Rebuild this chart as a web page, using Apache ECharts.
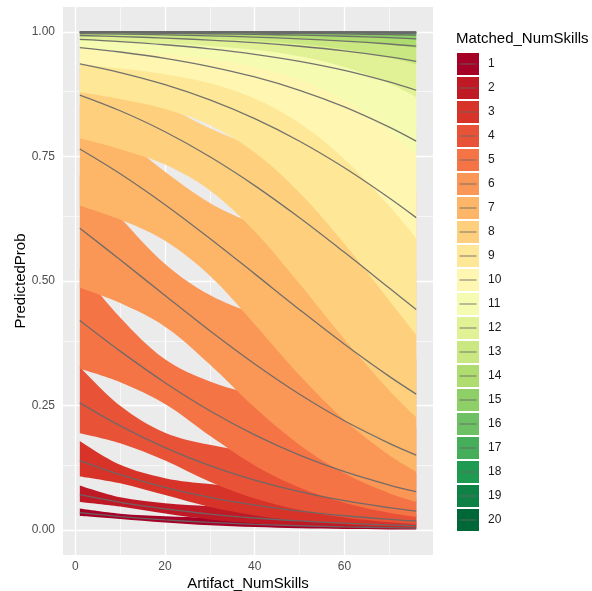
<!DOCTYPE html>
<html>
<head>
<meta charset="utf-8">
<script src="https://cdn.jsdelivr.net/npm/echarts@6/dist/echarts.min.js"></script>
<style>
html,body{margin:0;padding:0;background:#ffffff;}
#chart{width:592px;height:591px;}
</style>
</head>
<body>
<div id="chart"></div>
<script>
// ---- data ----
const xValues = [1, 10, 20, 30, 40, 50, 60, 70, 76];
const levels = ['1','2','3','4','5','6','7','8','9','10','11','12','13','14','15','16','17','18','19','20'];
const levelColors = ['#A50026','#BF1926','#D83328','#E85337','#F57446','#FA9656','#FDB668','#FED07E','#FEE796','#FFF7B1',
                     '#F5FBB1','#E1F296','#C9E881','#AEDC6F','#8ECF67','#6DC064','#46AD5B','#1E9A51','#0E8144','#006837'];
const fitProb = [
  [0.0349,0.0272,0.0205,0.0154,0.0116,0.0087,0.0066,0.0049,0.0042],
  [0.0711,0.0558,0.0424,0.0321,0.0243,0.0183,0.0138,0.0104,0.0088],
  [0.1394,0.1112,0.0857,0.0657,0.0501,0.0380,0.0288,0.0217,0.0183],
  [0.2554,0.2093,0.1656,0.1295,0.1004,0.0772,0.0590,0.0449,0.0381],
  [0.4207,0.3592,0.2959,0.2396,0.1911,0.1505,0.1172,0.0905,0.0773],
  [0.6059,0.5427,0.4708,0.4001,0.3334,0.2727,0.2194,0.1741,0.1506],
  [0.7650,0.7153,0.6532,0.5854,0.5143,0.4425,0.3731,0.3085,0.2729],
  [0.8733,0.8417,0.7995,0.7493,0.6915,0.6269,0.5575,0.4858,0.4428],
  [0.9358,0.9184,0.8941,0.8635,0.8259,0.7806,0.7273,0.6666,0.6272],
  [0.9686,0.9597,0.9470,0.9305,0.9095,0.8828,0.8495,0.8089,0.7807],
  [0.9849,0.9806,0.9742,0.9659,0.9551,0.9410,0.9228,0.8996,0.8829],
  [0.9928,0.9907,0.9877,0.9836,0.9783,0.9712,0.9620,0.9499,0.9410],
  [0.9966,0.9956,0.9941,0.9922,0.9896,0.9862,0.9817,0.9757,0.9713],
  [0.9984,0.9979,0.9972,0.9963,0.9951,0.9934,0.9913,0.9884,0.9862],
  [0.9992,0.9990,0.9987,0.9983,0.9977,0.9969,0.9959,0.9945,0.9934],
  [0.9996,0.9995,0.9994,0.9992,0.9989,0.9985,0.9980,0.9974,0.9969],
  [0.9998,0.9998,0.9997,0.9996,0.9995,0.9993,0.9991,0.9988,0.9985],
  [0.9999,0.9999,0.9999,0.9998,0.9998,0.9997,0.9996,0.9994,0.9993],
  [1.0000,1.0000,0.9999,0.9999,0.9999,0.9998,0.9998,0.9997,0.9997],
  [1.0000,1.0000,1.0000,1.0000,0.9999,0.9999,0.9999,0.9999,0.9998]
];
const lowerProb = [
  [0.0282,0.0225,0.0151,0.0096,0.0060,0.0037,0.0023,0.0014,0.0011],
  [0.0563,0.0472,0.0332,0.0213,0.0134,0.0084,0.0052,0.0032,0.0024],
  [0.1076,0.0939,0.0702,0.0464,0.0295,0.0185,0.0115,0.0072,0.0054],
  [0.1942,0.1741,0.1395,0.0969,0.0634,0.0404,0.0254,0.0159,0.0119],
  [0.3237,0.2967,0.2529,0.1892,0.1299,0.0855,0.0549,0.0347,0.0263],
  [0.4863,0.4556,0.4082,0.3325,0.2459,0.1709,0.1140,0.0740,0.0566],
  [0.6513,0.6234,0.5807,0.5103,0.4129,0.3108,0.2210,0.1503,0.1173],
  [0.7863,0.7645,0.7337,0.6817,0.5993,0.4944,0.3832,0.2804,0.2269],
  [0.8787,0.8652,0.8451,0.8127,0.7581,0.6773,0.5747,0.4606,0.3923],
  [0.9344,0.9266,0.9151,0.8970,0.8663,0.8166,0.7446,0.6504,0.5854],
  [0.9655,0.9612,0.9550,0.9456,0.9298,0.9033,0.8618,0.8011,0.7544],
  [0.9821,0.9799,0.9766,0.9718,0.9640,0.9510,0.9296,0.8965,0.8692],
  [0.9908,0.9896,0.9880,0.9856,0.9818,0.9755,0.9652,0.9486,0.9345],
  [0.9953,0.9947,0.9938,0.9926,0.9908,0.9879,0.9830,0.9751,0.9682],
  [0.9976,0.9973,0.9969,0.9963,0.9954,0.9940,0.9917,0.9880,0.9847],
  [0.9988,0.9986,0.9984,0.9981,0.9977,0.9970,0.9959,0.9942,0.9927],
  [0.9994,0.9993,0.9992,0.9990,0.9988,0.9985,0.9980,0.9972,0.9965],
  [0.9997,0.9996,0.9996,0.9995,0.9994,0.9993,0.9990,0.9986,0.9983],
  [0.9998,0.9998,0.9998,0.9998,0.9997,0.9996,0.9995,0.9993,0.9992],
  [0.9999,0.9999,0.9999,0.9999,0.9999,0.9998,0.9998,0.9997,0.9996]
];
const upperProb = [
  [0.0432,0.0328,0.0277,0.0247,0.0224,0.0203,0.0185,0.0169,0.0160],
  [0.0894,0.0658,0.0541,0.0481,0.0436,0.0397,0.0362,0.0331,0.0313],
  [0.1789,0.1311,0.1043,0.0923,0.0837,0.0764,0.0699,0.0640,0.0607],
  [0.3281,0.2496,0.1955,0.1711,0.1554,0.1425,0.1310,0.1206,0.1147],
  [0.5242,0.4268,0.3428,0.2984,0.2721,0.2513,0.2329,0.2160,0.2065],
  [0.7140,0.6270,0.5343,0.4717,0.4341,0.4055,0.3805,0.3573,0.3439],
  [0.8501,0.7922,0.7192,0.6567,0.6144,0.5828,0.5553,0.5295,0.5145],
  [0.9281,0.8966,0.8522,0.8067,0.7705,0.7427,0.7187,0.6960,0.6826],
  [0.9671,0.9518,0.9289,0.9022,0.8778,0.8578,0.8404,0.8240,0.8143],
  [0.9853,0.9783,0.9674,0.9537,0.9396,0.9272,0.9162,0.9060,0.8998],
  [0.9935,0.9904,0.9854,0.9789,0.9716,0.9645,0.9582,0.9523,0.9487],
  [0.9971,0.9958,0.9935,0.9905,0.9869,0.9833,0.9798,0.9765,0.9746],
  [0.9988,0.9981,0.9972,0.9958,0.9941,0.9923,0.9904,0.9887,0.9877],
  [0.9995,0.9992,0.9988,0.9981,0.9974,0.9965,0.9955,0.9946,0.9941],
  [0.9998,0.9996,0.9995,0.9992,0.9988,0.9984,0.9979,0.9975,0.9972],
  [0.9999,0.9998,0.9998,0.9996,0.9995,0.9993,0.9991,0.9988,0.9987],
  [1.0000,0.9999,0.9999,0.9998,0.9998,0.9997,0.9996,0.9995,0.9994],
  [1.0000,1.0000,1.0000,0.9999,0.9999,0.9999,0.9998,0.9998,0.9997],
  [1.0000,1.0000,1.0000,1.0000,1.0000,0.9999,0.9999,0.9999,0.9999],
  [1.0000,1.0000,1.0000,1.0000,1.0000,1.0000,1.0000,1.0000,1.0000]
];
const xTicks = [0, 20, 40, 60];
const xMinorTicks = [10, 30, 50, 70];
const yTicks = [0, 0.25, 0.5, 0.75, 1];
const yMinorTicks = [0.125, 0.375, 0.625, 0.875];

// ---- chart ----
const FONT = 'Liberation Sans, Arial, Helvetica, sans-serif';
const SMOOTH = 0.35;
const chart = echarts.init(document.getElementById('chart'), null, {renderer: 'canvas'});

const gridMarks = []
  .concat(xTicks.map(v => ({xAxis: v, lineStyle: {width: 1.3}})))
  .concat(xMinorTicks.map(v => ({xAxis: v, lineStyle: {width: 0.6}})))
  .concat(yTicks.map(v => ({yAxis: v, lineStyle: {width: 1.3}})))
  .concat(yMinorTicks.map(v => ({yAxis: v, lineStyle: {width: 0.6}})));

const series = [];
// Ribbons: value column first so that stacking happens on the y dimension.
levels.forEach((lv, i) => {
  const base = {
    type: 'line',
    name: 'lo' + lv,
    stack: 'ribbon' + lv,
    encode: {x: 1, y: 0},
    data: xValues.map((x, j) => [lowerProb[i][j], x]),
    symbol: 'none',
    smooth: SMOOTH,
    lineStyle: {width: 0, opacity: 0},
    silent: true,
    z: 2
  };
  if (i === 0) {
    base.markLine = {
      silent: true, symbol: 'none', z: 1, animation: false,
      label: {show: false},
      lineStyle: {color: '#ffffff', type: 'solid', opacity: 1},
      emphasis: {disabled: true},
      data: gridMarks
    };
  }
  series.push(base);
  series.push({
    type: 'line',
    name: lv,
    stack: 'ribbon' + lv,
    encode: {x: 1, y: 0},
    data: xValues.map((x, j) => [upperProb[i][j] - lowerProb[i][j], x]),
    symbol: 'none',
    smooth: SMOOTH,
    color: levelColors[i],
    itemStyle: {color: levelColors[i]},
    lineStyle: {width: 0, opacity: 0},
    areaStyle: {color: levelColors[i], opacity: 1},
    silent: true,
    z: 2
  });
});
levels.forEach((lv, i) => {
  series.push({
    type: 'line',
    name: 'fit' + lv,
    data: xValues.map((x, j) => [x, fitProb[i][j]]),
    symbol: 'none',
    smooth: SMOOTH,
    color: '#707070',
    itemStyle: {color: '#707070'},
    lineStyle: {color: 'rgba(104,104,104,0.92)', width: 1.3},
    silent: true,
    z: 3
  });
});

const option = {
  animation: false,
  backgroundColor: '#ffffff',
  title: {
    text: 'Matched_NumSkills',
    left: 456, top: 31, padding: 0,
    textStyle: {fontSize: 15, fontWeight: 'normal', color: '#000000', fontFamily: FONT}
  },
  legend: [
    {
      data: levels,
      orient: 'vertical', left: 457, top: 53, padding: 0,
      itemWidth: 22, itemHeight: 22, itemGap: 2,
      icon: 'rect', selectedMode: false,
      itemStyle: {borderWidth: 0},
      textStyle: {fontSize: 12, color: '#1a1a1a', fontFamily: FONT, padding: [0, 0, 0, 4]}
    },
    {
      data: levels.map(l => 'fit' + l),
      orient: 'vertical', left: 457, top: 53, padding: 0,
      itemWidth: 22, itemHeight: 22, itemGap: 2,
      icon: 'path://M0,0L0.01,0ZM22,22L21.99,22ZM2.5,10.4L19.5,10.4L19.5,11.6L2.5,11.6Z',
      selectedMode: false,
      itemStyle: {color: 'rgba(104,104,104,0.85)', borderWidth: 0},
      formatter: () => '',
      z: 6
    }
  ],
  grid: {left: 63, right: 159, top: 7, bottom: 36, containLabel: false, outerBoundsMode: 'none',
         show: true, backgroundColor: '#EBEBEB', borderWidth: 0},
  xAxis: {
    type: 'value', min: -2.75, max: 79.75,
    name: 'Artifact_NumSkills', nameLocation: 'middle', nameGap: 21, nameMoveOverlap: false,
    nameTextStyle: {fontSize: 15, color: '#000000', fontFamily: FONT},
    axisLine: {show: false},
    splitLine: {show: false},
    axisTick: {show: true, customValues: xTicks, length: 4, lineStyle: {color: '#333333', width: 1}},
    axisLabel: {customValues: xTicks, margin: 6, fontSize: 12, color: '#4d4d4d', fontFamily: FONT}
  },
  yAxis: {
    type: 'value', min: -0.05, max: 1.05,
    name: 'PredictedProb', nameLocation: 'middle', nameGap: 35, nameMoveOverlap: false,
    nameTextStyle: {fontSize: 15, color: '#000000', fontFamily: FONT},
    axisLine: {show: false},
    splitLine: {show: false},
    axisTick: {show: true, customValues: yTicks, length: 4, lineStyle: {color: '#333333', width: 1}},
    axisLabel: {customValues: yTicks, margin: 8, fontSize: 12, color: '#4d4d4d', fontFamily: FONT,
                formatter: v => v.toFixed(2)}
  },
  series: series
};
chart.setOption(option);
</script>
</body>
</html>
